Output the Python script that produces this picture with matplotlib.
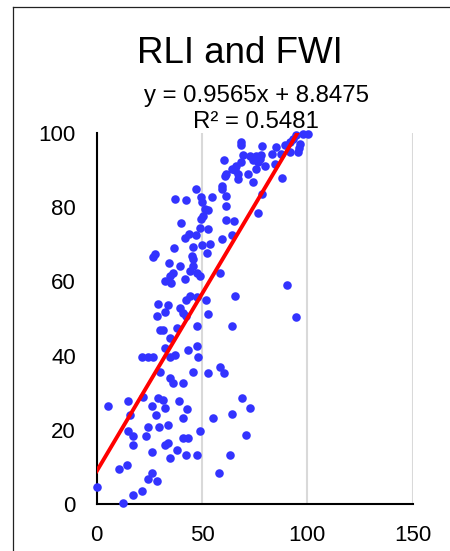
import matplotlib
matplotlib.use("Agg")
import matplotlib.pyplot as plt
from matplotlib.lines import Line2D

plt.rcParams['font.family'] = ['Liberation Sans', 'DejaVu Sans']

# scatter values (x, y)
rli = [
    68.7, 68.7, 78.7, 85.3, 89.2, 91.6, 93.2, 94.8, 97.9, 100.3,
    95.6, 96.0, 83.0, 87.7, 91.6, 69.5, 72.7, 75.8, 78.2, 77.4,
    74.2, 76.6, 60.3, 68.7, 66.3, 64.0, 65.5, 67.1, 61.6, 75.8,
    71.9, 74.2, 67.1, 84.5, 88.1, 47.1, 49.7, 50.2, 54.5, 59.7,
    59.7, 61.3, 61.6, 37.3, 42.3, 51.3, 52.9, 50.5, 49.7, 49.0,
    52.9, 61.3, 65.1, 78.7, 76.8, 39.8, 43.9, 41.8, 47.1, 45.5,
    50.2, 53.7, 52.4, 59.7, 64.4, 36.6, 27.6, 26.8, 34.4, 39.5,
    45.0, 45.8, 45.8, 44.2, 47.4, 49.0, 58.4, 36.3, 34.7, 32.4,
    35.5, 41.8, 29.2, 34.0, 32.4, 28.4, 39.5, 41.1, 42.6, 44.2,
    42.6, 47.4, 51.8, 52.9, 47.7, 30.0, 31.6, 34.7, 38.2, 65.5,
    64.4, 90.5, 94.8, 96.3, 79.8, 60.8,
    21.3, 24.5, 26.8, 32.4, 34.7, 37.1, 43.4, 47.4, 48.2, 30.0,
    34.7, 36.3, 41.1, 45.8, 52.9, 58.4, 60.3, 5.2, 15.0, 15.8,
    22.1, 26.1, 29.2, 31.3, 32.4, 28.1, 39.2, 43.0, 41.1, 55.0,
    64.4, 69.2, 73.0, 15.0, 17.4, 17.4, 23.4, 24.5, 29.5, 33.9,
    26.1, 32.4, 33.9, 34.7, 38.3, 41.1, 43.4, 42.3, 47.4, 49.0,
    70.8, 63.2, 10.7, 14.5, 24.2, 26.1, 28.4, 17.4, 21.3, 12.3,
    0.3, 58.1,
]
fwi = [
    97.7, 96.8, 96.5, 96.2, 96.7, 97.6, 98.5, 99.4, 99.8, 99.8,
    94.9, 95.9, 94.4, 94.4, 94.9, 94.1, 93.8, 93.9, 94.1, 93.0,
    92.6, 92.1, 92.6, 92.1, 91.2, 90.3, 89.9, 89.0, 89.0, 90.3,
    89.0, 86.7, 87.6, 91.7, 87.8, 84.9, 82.7, 81.3, 82.7, 85.8,
    84.9, 82.9, 80.2, 82.2, 82.0, 79.5, 79.3, 77.7, 76.8, 74.5,
    74.1, 76.6, 76.3, 83.6, 78.4, 75.7, 72.7, 71.6, 72.4, 69.3,
    69.7, 70.0, 67.6, 71.4, 72.4, 69.1, 67.3, 66.7, 65.0, 64.1,
    66.8, 66.1, 64.1, 62.8, 62.2, 61.4, 62.2, 62.3, 61.4, 60.1,
    59.6, 60.7, 54.0, 53.7, 51.7, 50.6, 52.8, 51.5, 50.6, 56.2,
    55.1, 55.8, 55.1, 51.3, 48.1, 47.0, 46.8, 44.7, 47.4, 56.2,
    47.9, 59.0, 50.3, 97.1, 91.0, 88.5,
    39.6, 39.7, 39.5, 42.0, 39.7, 40.2, 41.4, 42.5, 39.7, 35.7,
    33.9, 32.5, 32.5, 35.7, 35.4, 37.0, 35.4, 26.4, 27.7, 24.0,
    28.9, 26.4, 28.5, 28.0, 26.0, 23.9, 27.7, 25.5, 23.2, 23.2,
    24.2, 28.7, 25.9, 19.7, 18.2, 16.0, 18.2, 20.8, 20.8, 21.4,
    14.0, 15.8, 16.4, 12.3, 14.5, 17.9, 17.9, 13.2, 13.3, 19.6,
    18.7, 13.1, 9.5, 10.5, 6.8, 8.4, 6.3, 2.5, 3.6, 0.2,
    4.7, 8.3,
]

# trendline as printed on the chart
slope = 0.9565
intercept = 8.8475
r2 = 0.5481
trend_x = [0, 100]

x_ticks = [0, 50, 100, 150]
y_ticks = [0, 20, 40, 60, 80, 100]

fig = plt.figure(figsize=(4.5, 5.51), dpi=100)
ax = fig.add_axes([0.2149, 0.0853, 0.7022, 0.6733])

ax.scatter(rli, fwi, s=38, color='#3333ff', linewidths=0, zorder=3, clip_on=False)
ax.plot(trend_x, [slope * v + intercept for v in trend_x], color='#ff0000', lw=2.8, zorder=4)

ax.set_xlim(0, 150)
ax.set_ylim(0, 100)
ax.set_xticks(x_ticks)
ax.set_yticks(y_ticks)
ax.tick_params(length=0, labelsize=16, pad=15)
ax.xaxis.grid(True, color='#d9d9d9', lw=1.5)
ax.set_axisbelow(True)
for side in ('top', 'right'):
    ax.spines[side].set_visible(False)
for side in ('left', 'bottom'):
    ax.spines[side].set_linewidth(1.5)
    ax.spines[side].set_color('black')

fig.text(0.533, 0.885, 'RLI and FWI', ha='center', va='baseline', fontsize=26.5)
fig.text(0.569, 0.8154, f'y = {slope}x + {intercept}', ha='center', va='baseline', fontsize=17.3)
fig.text(0.569, 0.7671, f'R² = {r2}', ha='center', va='baseline', fontsize=17.3)

# chart area border (only left and top are inside the picture)
fig.add_artist(Line2D([13 / 450, 13 / 450], [0, 1 - 7 / 551], color='#222222', lw=0.9))
fig.add_artist(Line2D([13 / 450, 1], [1 - 7 / 551, 1 - 7 / 551], color='#222222', lw=0.9))

fig.savefig('out.png', dpi=100)
